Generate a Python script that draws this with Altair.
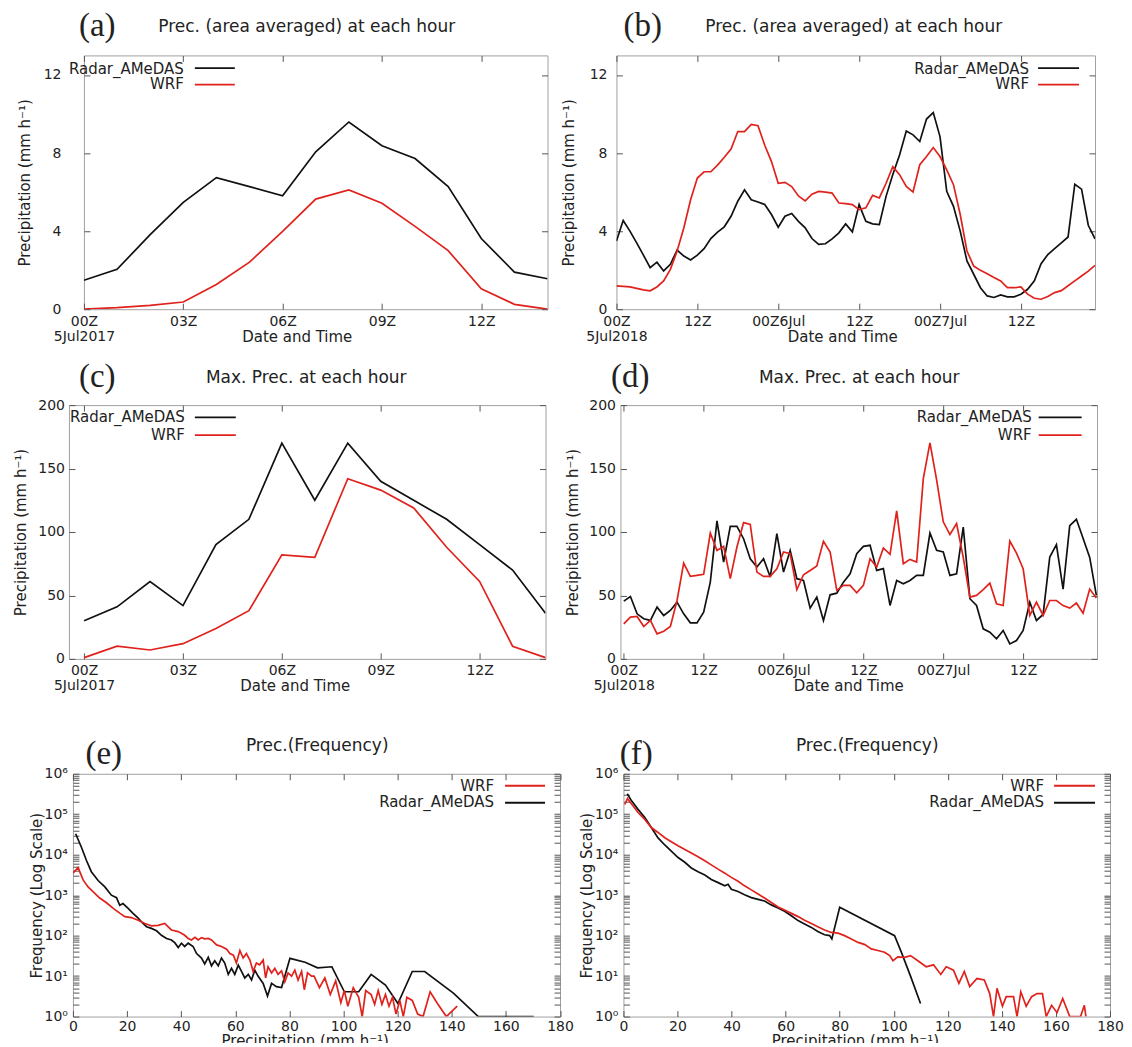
import altair as alt
import pandas as pd

FONT = "DejaVu Sans"
SERIF = "Liberation Serif"
BLACK = "#111111"
RED = "#e0221c"
TXT = "#222222"
FRAME = "#a0a0a0"
TICK = "#555555"
SERIES = ["Radar_AMeDAS", "WRF"]

# ---------------- data ----------------
HOURS_2017 = list(range(15))
A_RADAR = [1.48, 2.04, 3.82, 5.47, 6.74, 6.28, 5.81, 8.06, 9.59, 8.37, 7.72, 6.28, 3.62, 1.90, 1.56]
A_WRF = [0.0, 0.08, 0.2, 0.37, 1.27, 2.41, 3.99, 5.64, 6.11, 5.43, 4.24, 3.0, 1.05, 0.25, 0.0]
C_RADAR = [30, 41, 61, 42, 90, 110, 170, 125, 170, 140, 125, 110, 90, 70, 36]
C_WRF = [1, 10, 7, 12, 24, 38, 82, 80, 142, 133, 119, 88, 61, 10, 1]

HOURS_2018 = list(range(72))
B_RADAR = [3.49, 4.54, 4.0, 3.4, 2.77, 2.13, 2.41, 1.96, 2.30, 3.03, 2.72, 2.52, 2.77, 3.1, 3.62, 3.95,
           4.22, 4.76, 5.53, 6.12, 5.61, 5.49, 5.36, 4.85, 4.2, 4.76, 4.9, 4.5, 4.17, 3.62, 3.32, 3.35,
           3.6, 3.91, 4.37, 3.96, 5.36, 4.5, 4.37, 4.34, 5.78, 6.9, 7.9, 9.13, 8.93, 8.59, 9.74, 10.07,
           8.84, 6.04, 5.27, 4.0, 2.47, 1.79, 1.1, 0.68, 0.6, 0.73, 0.63, 0.63, 0.77, 1.02, 1.45, 2.33,
           2.8, 3.1, 3.4, 3.7, 6.4, 6.15, 4.3, 3.6]
B_WRF = [1.19, 1.17, 1.14, 1.07, 0.99, 0.94, 1.14, 1.45, 2.04, 2.98, 4.17, 5.61, 6.72, 7.04, 7.04, 7.38,
         7.78, 8.2, 9.1, 9.1, 9.47, 9.4, 8.4, 7.56, 6.45, 6.5, 6.28, 5.8, 5.55, 5.89, 6.03, 6.0,
         5.95, 5.44, 5.41, 5.36, 5.1, 5.19, 5.83, 5.7, 6.45, 7.3, 6.89, 6.29, 6.0, 7.4, 7.82, 8.28,
         7.82, 7.14, 6.38, 4.85, 2.98, 2.21, 1.99, 1.82, 1.62, 1.45, 1.1, 1.1, 1.14, 0.77, 0.56, 0.51,
         0.65, 0.85, 0.95, 1.2, 1.45, 1.7, 1.95, 2.24]
D_RADAR = [45.5, 49.2, 35.5, 31.6, 30.3, 40.8, 34.2, 38.2, 44.7, 35.5, 28.4, 28.4, 36.8, 60.5, 108.7, 76.3,
           104.5, 104.5, 94.7, 78.9, 72.4, 78.9, 64.5, 98.7, 68.4, 85.5, 63.2, 61.8, 40, 48.7, 30.3, 50.5,
           51.8, 60.5, 67.1, 82.9, 88.7, 89.5, 69.7, 71.1, 42.1, 61.8, 59.2, 61.8, 65.8, 65.8, 99.2, 85.5,
           84.2, 65.8, 67.1, 103.9, 47.4, 42.1, 23.7, 21, 15.8, 22.4, 11.8, 14.5, 22.4, 44.7, 30.3, 35,
           80.3, 90, 55, 105, 110, 95, 80, 50]
D_WRF = [27.6, 32.9, 33.4, 25.5, 30.3, 19.7, 21.8, 25.5, 46, 75.5, 65, 65.8, 66.6, 99.2, 85.5, 88.7,
         63.2, 88.2, 107.4, 106, 68.4, 65, 65, 71, 84.2, 82.9, 54.5, 66.3, 69.7, 73.2, 92.6, 84.2,
         54, 57.9, 57.9, 52.1, 57.9, 78.9, 72.4, 87.4, 82.4, 116.6, 75, 78.4, 76.3, 142, 170.3, 141,
         108, 98, 106.6, 80, 48.7, 50, 54.5, 59.7, 43.4, 42.1, 92.9, 83.4, 71, 34.2, 44.7, 34.2,
         46, 46, 42, 40, 44, 36, 55, 48]

E_RADAR_X = [1.0, 3.1, 5.0, 6.8, 9.3, 11.8, 14.2, 16.1, 17.3, 18.5, 20.4, 22.2, 24.1, 25.9, 27.2, 29.0,
             30.9, 32.7, 34.6, 36.4, 37.7, 38.9, 40.1, 41.3, 42.6, 44.4, 45.7, 47.5, 48.7, 50.0, 51.2, 52.4,
             53.7, 54.9, 56.1, 57.4, 58.6, 59.8, 61.1, 62.3, 63.5, 64.8, 66.0, 67.2, 68.4, 70.3, 71.9, 73.4,
             75.2, 77.1, 80.2, 85.8, 90.4, 95.7, 100.3, 105.6, 110.2, 115.5, 120.1, 125.4, 130.0, 140.6,
             149.8, 170.3]
E_RADAR_F = [33000, 15500, 7200, 3800, 2300, 1600, 1000, 870, 560, 620, 470, 355, 270, 200, 166, 151,
             132, 102, 85, 78, 66, 51, 65, 54, 65, 54, 36, 28, 20, 29, 18, 24,
             18, 28, 21, 11, 15.5, 11, 18.6, 13, 9, 11, 8, 14, 10, 6.6, 3.2, 6.6,
             5.5, 5.2, 27.5, 22, 16, 17, 4.1, 4.1, 11, 6, 2.1, 13, 13, 3.8,
             1, 1]
E_WRF_X = [0.0, 1.9, 3.8, 5.6, 7.5, 9.9, 12.4, 14.9, 17.3, 19.2, 21.6, 24.1, 26.6, 29.0, 31.5, 33.9,
           36.4, 38.9, 40.1, 41.3, 42.6, 43.8, 45.1, 46.3, 47.5, 48.7, 50.0, 51.2, 53.1, 54.9, 56.8, 58.0,
           59.3, 60.4, 61.7, 62.9, 64.1, 65.4, 66.6, 67.8, 69.0, 70.3, 71.2, 72.1, 73.4, 74.6, 75.8, 77.1,
           78.3, 79.5, 80.8, 82.0, 83.2, 84.5, 85.5, 86.7, 88.2, 89.1, 91.1, 93.1, 95.1, 97.1, 99.0, 100.3,
           101.6, 103.6, 105.6, 106.9, 108.2, 110.2, 111.5, 112.8, 114.2, 115.5, 116.8, 118.1, 119.4, 120.8,
           122.1, 123.4, 125.4, 127.4, 129.4, 132.0, 134.7, 138.0, 142.0]
E_WRF_F = [3500, 4800, 2350, 1600, 1200, 850, 650, 470, 360, 295, 280, 240, 200, 175, 180, 200,
           138, 126, 115, 102, 85, 78, 91, 78, 89, 83, 85, 78, 59, 54, 46, 36,
           33, 21, 43, 28, 36, 25, 13, 21, 19, 25, 9, 17, 12, 15.5, 11, 13.5,
           7.2, 12, 10, 14, 8, 13, 4.6, 12, 10, 10, 5.2, 9, 3.5, 7.6, 2.2, 4.4,
           1.8, 5.2, 3, 1, 4.4, 3.5, 2, 4.4, 2, 3.5, 1.8, 3, 1.15, 2.5,
           1, 3, 2.5, 1.15, 1, 4.1, 2.1, 1, 1.8]

F_RADAR_X = [1.4, 3.0, 5.4, 7.9, 10.3, 12.8, 15.3, 17.7, 20.2, 22.7, 25.1, 27.6, 30.1, 32.5, 35.0, 37.5,
             38.7, 39.9, 42.4, 44.8, 47.3, 49.8, 52.2, 54.7, 57.2, 59.6, 62.1, 64.6, 67.0, 69.5, 71.9, 74.4,
             76.3, 77.1, 80.0, 100.3, 102.8, 106.2, 109.9]
F_RADAR_F = [320000, 214000, 132000, 83000, 47000, 26000, 17400, 12300, 8500, 6500, 4700, 3800, 3160,
             2450, 2040, 1700, 1860, 1400, 1230, 1020, 870, 790, 720, 575, 480, 400, 310, 235, 195, 160,
             126, 105, 100, 83, 500, 100, 39, 10, 2.1]
F_WRF_X = [0.5, 1.5, 3.0, 5.4, 7.9, 10.3, 12.8, 15.3, 17.7, 20.2, 22.7, 25.1, 27.6, 30.1, 32.5, 35.0,
           37.5, 39.9, 42.4, 44.8, 47.3, 49.8, 52.2, 54.7, 57.2, 59.6, 62.1, 64.6, 67.0, 69.5, 71.9, 74.4,
           76.9, 79.4, 81.8, 84.3, 86.8, 89.3, 91.7, 94.1, 96.6, 98.5, 99.7, 101.5, 104.0, 106.2, 109.3,
           112.0, 114.7, 117.4, 119.4, 122.1, 124.1, 126.1, 128.1, 130.8, 133.5, 135.5, 136.9, 138.2,
           140.2, 141.6, 144.3, 145.6, 147.0, 149.0, 151.0, 153.0, 155.0, 156.4, 158.4, 160.4, 162.5,
           165.1, 169.1, 170.5, 171.1]
F_WRF_F = [174000, 245000, 178000, 110000, 74000, 47000, 35500, 26300, 20900, 16600, 13500, 11000, 8900,
           7100, 5600, 4400, 3500, 2750, 2200, 1700, 1350, 1070, 850, 660, 510, 430, 355, 295, 240, 200,
           166, 138, 120, 115, 100, 83, 68, 60, 47, 43, 39, 32, 24, 30, 29, 32, 23,
           17, 19, 11, 17, 14, 6.6, 13, 5.5, 8.7, 8, 3.7, 1, 5,
           1.8, 3.1, 3.1, 1, 4.1, 1.8, 3.1, 3.7, 3.7, 1, 1.9, 1.25, 2.8,
           1, 1, 1.9, 1]

TICKS_2017 = [0, 3, 6, 9, 12]
TICKLAB_2017 = [["00Z", "5Jul2017"], "03Z", "06Z", "09Z", "12Z"]
TICKS_2018 = [0, 12, 24, 36, 48, 60]
TICKLAB_2018 = [["00Z", "5Jul2018"], "12Z", "00Z6Jul", "12Z", "00Z7Jul", "12Z"]
TICKS_AVG = [0, 4, 8, 12]
TICKS_MAX = [0, 50, 100, 150, 200]
TICKS_LOG = [1, 10, 100, 1000, 10000, 100000, 1000000]
TICKLAB_LOG = ["10⁰", "10¹", "10²", "10³", "10⁴", "10⁵", "10⁶"]
TICKS_PREC = [0, 20, 40, 60, 80, 100, 120, 140, 160, 180]
MINOR_LOG = [k * d for d in [1, 10, 100, 1000, 10000, 100000] for k in range(2, 10)]

YTITLE_P = "Precipitation (mm h⁻¹)"
YTITLE_F = "Frequency (Log Scale)"
ONE = pd.DataFrame({"k": [0]})
TS = 6


def long_df(pairs):
    return pd.DataFrame([{"x": x, "v": v, "series": s}
                         for s, xs, ys in pairs for x, v in zip(xs, ys)])


def lab_expr(vals, labs):
    e = "''"
    for v, l in reversed(list(zip(vals, labs))):
        if isinstance(l, list):
            ls = "[" + ",".join("'%s'" % t for t in l) + "]"
        else:
            ls = "'%s'" % l
        e = "(datum.value == %s ? %s : %s)" % (repr(v), ls, e)
    return e


def txt(s, x, y, size, align="left", font=FONT):
    return alt.Chart(ONE).mark_text(text=s, align=align, baseline="alphabetic", font=font,
                                    fontSize=size, color=TXT).encode(x=alt.value(x), y=alt.value(y))


def seg(x1, x2, y, color):
    return alt.Chart(ONE).mark_rule(color=color, strokeWidth=1.8).encode(
        x=alt.value(x1), x2=alt.value(x2), y=alt.value(y))


def left_spacer(w, h, above, below):
    # invisible vertical rule fixing the row's extent above and below the plots
    return alt.Chart(ONE).mark_rule(strokeOpacity=0).encode(
        x=alt.value(0), y=alt.value(-above), y2=alt.value(h + below)).properties(
        width=w, height=h, view=alt.ViewBackground(stroke="transparent"))


def mid_spacer(w, h):
    return alt.Chart(ONE).mark_point(opacity=0, size=1).encode(
        x=alt.value(w / 2), y=alt.value(h / 2)).properties(
        width=w, height=h, view=alt.ViewBackground(stroke="transparent"))


def panel(df, W, H, xdom, ydom, ylog, xticks, xlab, yticks, ylab, yminor,
          xtitle, xtitle_x, xtitle_y, xlabpad, ytitle, ytitle_x, ylabpad,
          letter, letter_xy, title, title_xy, legend):
    xscale = alt.Scale(domain=xdom, nice=False, zero=False)
    if ylog:
        yscale = alt.Scale(type="log", domain=ydom, nice=False)
    else:
        yscale = alt.Scale(domain=ydom, nice=False, zero=False)
    yvals = yticks + yminor
    main = alt.Chart(df).mark_line(strokeWidth=1.7, clip=True).encode(
        x=alt.X("x:Q", scale=xscale, axis=alt.Axis(
            orient="bottom", values=xticks, labelExpr=xlab, title=xtitle,
            titleX=xtitle_x, titleY=xtitle_y + TS, titleAlign="center", titleBaseline="alphabetic",
            domain=False, tickSize=TS, offset=-TS, labelPadding=xlabpad, labelFlush=False,
            labelOverlap=False, labelLineHeight=15, grid=False)),
        y=alt.Y("v:Q", scale=yscale, axis=alt.Axis(
            orient="left", values=yvals, labelExpr=ylab, title=ytitle,
            titleX=ytitle_x - TS, titleY=H / 2, titleAngle=270, titleAlign="center",
            titleBaseline="middle", domain=False, tickSize=TS, offset=-TS,
            labelPadding=ylabpad, labelOverlap=False, labelFlush=False, grid=False)),
        color=alt.Color("series:N", scale=alt.Scale(domain=SERIES, range=[BLACK, RED]), legend=None),
    )
    mirror = alt.Chart(df).mark_point(opacity=0, size=1).encode(
        x=alt.X("x:Q", scale=xscale, axis=alt.Axis(
            orient="top", values=xticks, labels=False, title="", domain=False,
            tickSize=TS, offset=-TS, grid=False)),
        y=alt.Y("v:Q", scale=yscale, axis=alt.Axis(
            orient="right", values=yvals, labels=False, title="", domain=False,
            tickSize=TS, offset=-TS, grid=False)),
    )
    layers = [main, mirror,
              txt(letter, letter_xy[0], letter_xy[1], 33, font=SERIF),
              txt(title, title_xy[0], title_xy[1], 17, align="center")]
    for name, color, tx, ty, x1, x2, ly in legend:
        layers.append(txt(name, tx, ty, 15, align="right"))
        layers.append(seg(x1, x2, ly, color))
    return alt.layer(*layers).resolve_axis(x="independent", y="independent").properties(width=W, height=H)


lab17 = lab_expr(TICKS_2017, TICKLAB_2017)
lab18 = lab_expr(TICKS_2018, TICKLAB_2018)
labnum = "datum.value"
lablog = lab_expr(TICKS_LOG, TICKLAB_LOG)

pa = panel(long_df([("Radar_AMeDAS", HOURS_2017, A_RADAR), ("WRF", HOURS_2017, A_WRF)]),
           464, 254, [0, 14], [0, 13], False, TICKS_2017, lab17, TICKS_AVG, labnum, [],
           "Date and Time", 213, 32, 5, YTITLE_P, -59, 23,
           "(a)", (-5, -19), "Prec. (area averaged) at each hour", (223, -23),
           [("Radar_AMeDAS", BLACK, 100, 19, 111, 151, 12.7),
            ("WRF", RED, 100, 34, 111, 151, 29.3)])
pb = panel(long_df([("Radar_AMeDAS", HOURS_2018, B_RADAR), ("WRF", HOURS_2018, B_WRF)]),
           479, 254, [0, 71], [0, 13], False, TICKS_2018, lab18, TICKS_AVG, labnum, [],
           "Date and Time", 226, 32, 5, YTITLE_P, -47.5, 9.5,
           "(b)", (7, -19), "Prec. (area averaged) at each hour", (237.5, -23),
           [("Radar_AMeDAS", BLACK, 413, 19, 422, 463, 12.7),
            ("WRF", RED, 413, 34, 422, 463, 29.3)])
pc = panel(long_df([("Radar_AMeDAS", HOURS_2017, C_RADAR), ("WRF", HOURS_2017, C_WRF)]),
           477, 254, [-0.46, 14], [0, 200], False, TICKS_2017, lab17, TICKS_MAX, labnum, [],
           "Date and Time", 226, 32, 5, YTITLE_P, -48.2, 4.5,
           "(c)", (10, -18), "Max. Prec. at each hour", (237.5, -21.7),
           [("Radar_AMeDAS", BLACK, 116, 17.3, 126, 167, 12.3),
            ("WRF", RED, 116, 35, 126, 167, 30)])
pd_ = panel(long_df([("Radar_AMeDAS", HOURS_2018, D_RADAR), ("WRF", HOURS_2018, D_WRF)]),
            477, 254, [-0.5, 71.1], [0, 200], False, TICKS_2018, lab18, TICKS_MAX, labnum, [],
            "Date and Time", 228, 32, 5, YTITLE_P, -48.4, 5,
            "(d)", (-9.4, -18), "Max. Prec. at each hour", (239, -21.7),
            [("Radar_AMeDAS", BLACK, 411.6, 17.3, 418.6, 461.6, 12.3),
             ("WRF", RED, 411.6, 35, 418.6, 461.6, 30)])
pe = panel(long_df([("Radar_AMeDAS", E_RADAR_X, E_RADAR_F), ("WRF", E_WRF_X, E_WRF_F)]),
           487.5, 243, [0, 180], [1, 1000000], True, TICKS_PREC, labnum, TICKS_LOG, lablog, MINOR_LOG,
           "Precipitation (mm h⁻¹)", 232, 29, 3, YTITLE_F, -36.7, 5.5,
           "(e)", (12.5, -10), "Prec.(Frequency)", (244.5, -22.3),
           [("WRF", RED, 421.5, 17.3, 432.5, 472.5, 12),
            ("Radar_AMeDAS", BLACK, 421.5, 33.5, 432.5, 472.5, 29)])
pf = panel(long_df([("Radar_AMeDAS", F_RADAR_X, F_RADAR_F), ("WRF", F_WRF_X, F_WRF_F)]),
           487, 243, [0, 180], [1, 1000000], True, TICKS_PREC, labnum, TICKS_LOG, lablog, MINOR_LOG,
           "Precipitation (mm h⁻¹)", 231.7, 29, 3, YTITLE_F, -37.4, 5.5,
           "(f)", (-3.6, -10), "Prec.(Frequency)", (244, -22.3),
           [("WRF", RED, 421, 17.3, 431, 472, 12),
            ("Radar_AMeDAS", BLACK, 421, 33.5, 431, 472, 29)])

# rows: flat hconcats (flush); rows stacked by their full extents, fixed by the left spacers
row1 = alt.hconcat(left_spacer(74.1, 254, 46, 40), pa, mid_spacer(68.3, 254), pb,
                   spacing=0, bounds="flush")
row2 = alt.hconcat(left_spacer(59.1, 254, 54.4, 40), pc, mid_spacer(74.8, 254), pd_,
                   spacing=0, bounds="flush")
row3 = alt.hconcat(left_spacer(63.5, 243, 73.3, 40), pe, mid_spacer(63, 243), pf,
                   spacing=0, bounds="flush")

chart = alt.vconcat(row1, row2, row3, spacing=0).properties(
    padding={"left": 0, "top": 0, "right": 0, "bottom": -15}
).configure_view(
    stroke=FRAME, strokeWidth=1
).configure_axis(
    labelFont=FONT, labelFontSize=14, labelColor=TXT, titleFont=FONT, titleFontSize=15,
    titleFontWeight="normal", titleColor=TXT, tickColor=TICK, tickWidth=1
)

chart.save("out.html", embed_options={"renderer": "svg", "actions": False})
